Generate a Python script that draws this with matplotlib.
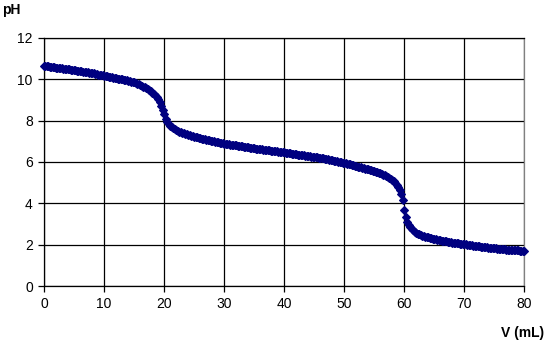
import matplotlib
matplotlib.use("Agg")
import matplotlib.pyplot as plt
import numpy as np

plt.rcParams['font.family'] = ['Liberation Sans', 'DejaVu Sans']

# titrant volume, read every 0.25 mL
volume_ml = np.arange(0, 80.001, 0.25)

# pH, one row per mL (0, .25, .5, .75)
ph = [
    10.65, 10.64, 10.63, 10.62,
    10.61, 10.60, 10.59, 10.58,
    10.57, 10.56, 10.55, 10.54,
    10.53, 10.52, 10.51, 10.50,
    10.49, 10.48, 10.47, 10.46,
    10.45, 10.44, 10.42, 10.41,
    10.40, 10.39, 10.37, 10.36,
    10.35, 10.33, 10.32, 10.31,
    10.29, 10.28, 10.26, 10.25,
    10.23, 10.22, 10.20, 10.19,
    10.17, 10.155, 10.14, 10.125,
    10.11, 10.095, 10.08, 10.065,
    10.05, 10.035, 10.02, 10.00,
    9.99, 9.975, 9.96, 9.945,
    9.93, 9.91, 9.89, 9.87,
    9.85, 9.82, 9.79, 9.76,
    9.72, 9.69, 9.65, 9.61,
    9.57, 9.52, 9.47, 9.42,
    9.36, 9.29, 9.22, 9.14,
    9.05, 8.92, 8.72, 8.50,
    8.30, 8.10, 7.95, 7.84,
    7.76, 7.70, 7.64, 7.59,
    7.55, 7.51, 7.47, 7.44,
    7.41, 7.38, 7.35, 7.33,
    7.31, 7.29, 7.27, 7.25,
    7.23, 7.21, 7.19, 7.17,
    7.15, 7.13, 7.11, 7.10,
    7.08, 7.06, 7.05, 7.03,
    7.02, 7.00, 6.99, 6.97,
    6.95, 6.93, 6.92, 6.90,
    6.89, 6.88, 6.87, 6.86,
    6.84, 6.83, 6.82, 6.81,
    6.80, 6.79, 6.77, 6.76,
    6.75, 6.74, 6.73, 6.72,
    6.71, 6.70, 6.69, 6.68,
    6.66, 6.65, 6.64, 6.63,
    6.62, 6.61, 6.60, 6.59,
    6.58, 6.57, 6.56, 6.55,
    6.54, 6.53, 6.52, 6.51,
    6.50, 6.49, 6.48, 6.47,
    6.46, 6.45, 6.44, 6.43,
    6.42, 6.41, 6.40, 6.39,
    6.37, 6.36, 6.35, 6.34,
    6.33, 6.32, 6.30, 6.29,
    6.28, 6.27, 6.26, 6.25,
    6.24, 6.23, 6.22, 6.21,
    6.20, 6.18, 6.17, 6.16,
    6.14, 6.13, 6.11, 6.10,
    6.08, 6.07, 6.05, 6.04,
    6.02, 6.00, 5.99, 5.97,
    5.95, 5.93, 5.91, 5.90,
    5.88, 5.86, 5.84, 5.82,
    5.80, 5.78, 5.76, 5.74,
    5.72, 5.70, 5.68, 5.66,
    5.64, 5.62, 5.60, 5.58,
    5.56, 5.53, 5.51, 5.48,
    5.45, 5.42, 5.39, 5.36,
    5.32, 5.28, 5.24, 5.19,
    5.13, 5.07, 4.99, 4.90,
    4.79, 4.65, 4.46, 4.15,
    3.70, 3.32, 3.10, 2.95,
    2.84, 2.76, 2.69, 2.63,
    2.58, 2.54, 2.50, 2.47,
    2.44, 2.41, 2.39, 2.37,
    2.35, 2.33, 2.31, 2.29,
    2.27, 2.26, 2.24, 2.23,
    2.21, 2.20, 2.19, 2.17,
    2.16, 2.15, 2.14, 2.13,
    2.10, 2.09, 2.08, 2.07,
    2.06, 2.05, 2.04, 2.03,
    2.02, 2.01, 2.00, 1.99,
    1.98, 1.97, 1.96, 1.95,
    1.94, 1.93, 1.92, 1.91,
    1.90, 1.89, 1.88, 1.87,
    1.86, 1.85, 1.85, 1.84,
    1.83, 1.82, 1.81, 1.81,
    1.80, 1.79, 1.78, 1.77,
    1.76, 1.76, 1.75, 1.74,
    1.74, 1.73, 1.73, 1.72,
    1.72, 1.71, 1.71, 1.70,
    1.70,
]

x_ticks = [0, 10, 20, 30, 40, 50, 60, 70, 80]
y_ticks = [0, 2, 4, 6, 8, 10, 12]

fig = plt.figure(figsize=(5.47, 3.48), dpi=100)
ax = fig.add_axes([0.0804, 0.178, 0.878, 0.713])

ax.plot(volume_ml, ph, linestyle='none', marker='D', markersize=3.8,
        color='#000080', markeredgewidth=0.8, zorder=3, clip_on=False)

ax.set_xlim(0, 80)
ax.set_ylim(0, 12)
ax.set_xticks(x_ticks)
ax.set_yticks(y_ticks)
ax.grid(True, color='black', linewidth=0.9)
ax.set_axisbelow(True)

for side in ['left', 'bottom', 'top']:
    ax.spines[side].set_color('black')
    ax.spines[side].set_linewidth(0.9)
ax.spines['right'].set_color('#808080')
ax.spines['right'].set_linewidth(0.9)

ax.tick_params(direction='out', length=4, width=0.9, labelsize=10,
               colors='black', pad=4)

fig.text(0.004, 0.972, 'pH', fontsize=10, fontweight='bold', va='center', ha='left')
fig.text(0.995, 0.042, 'V (mL)', fontsize=10, fontweight='bold', va='center', ha='right')

fig.savefig('out.png', dpi=100)
